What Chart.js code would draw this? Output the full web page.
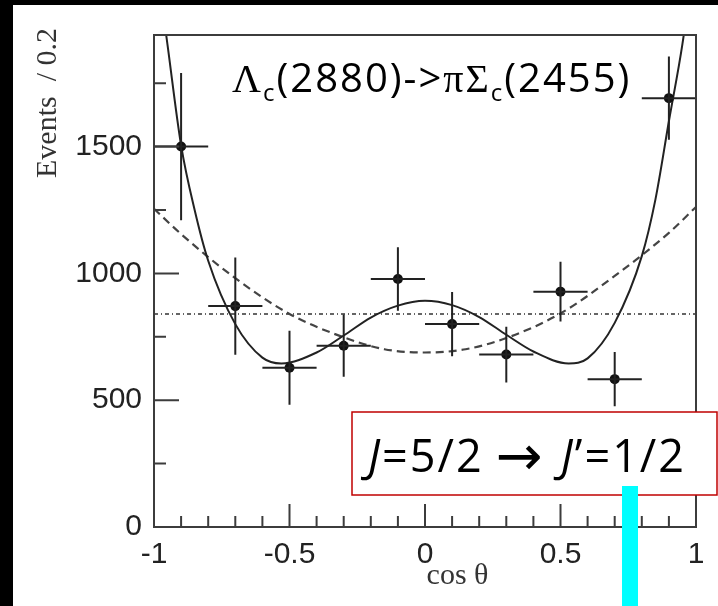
<!DOCTYPE html>
<html>
<head>
<meta charset="utf-8">
<script src="https://cdn.jsdelivr.net/npm/chart.js@4.4.0/dist/chart.umd.min.js"></script>
<style>
  html, body { margin: 0; padding: 0; background: #fff; overflow: hidden; }
  canvas { display: block; background: #fff; }
</style>
</head>
<body>
<canvas id="angChart" width="718" height="606" style="width:718px;height:606px"></canvas>
<script>
// measured bins (cos theta, width 0.2)
const binCenters = [-0.9, -0.7, -0.5, -0.3, -0.1, 0.1, 0.3, 0.5, 0.7, 0.9];
const eventCounts = [1500, 871, 628, 715, 978, 800, 680, 928, 583, 1691];
const countErrors = [290, 192, 146, 123, 125, 127, 110, 118, 107, 164];
const binHalfWidth = 0.1;

// fit curves
const solidX = [-1, -0.95, -0.9, -0.85, -0.8, -0.7, -0.6, -0.53, -0.4, -0.3, -0.2, -0.1, 0, 0.1, 0.2, 0.3, 0.4, 0.53, 0.6, 0.7, 0.8, 0.85, 0.9, 0.95, 1];
const solidY = [2300, 1900, 1505, 1250, 1050, 800, 668, 645, 688, 755, 826, 873, 892, 875, 828, 758, 692, 645, 665, 805, 1068, 1290, 1600, 1905, 2300];
const dashedX = [-1, -0.9, -0.7, -0.5, -0.3, -0.15, 0, 0.15, 0.3, 0.5, 0.7, 0.9, 1];
const dashedY = [1255, 1155, 981, 840, 748, 701, 688, 701, 745, 842, 990, 1160, 1262];
const flatX = [-1, 1];
const flatY = [840, 840];

// axes
const xMajorTicks = [-1, -0.5, 0, 0.5, 1];
const xTickLabels = ['-1', '-0.5', '0', '0.5', '1'];
const xMinorTicks = [-0.9, -0.8, -0.7, -0.6, -0.4, -0.3, -0.2, -0.1, 0.1, 0.2, 0.3, 0.4, 0.6, 0.7, 0.8, 0.9];
const yMajorTicks = [0, 500, 1000, 1500];
const yTickLabels = ['0', '500', '1000', '1500'];
const yMinorTicks = [250, 750, 1250, 1750];

const ink = '#222';
const axisInk = '#3c3c3c';

function pts(xs, ys) {
    return xs.map((x, i) => ({ x: x, y: ys[i] }));
}

// draws runs of text side by side; {gap: n} just moves on
function drawParts(ctx, parts, x, y) {
    parts.forEach(p => {
        if (p.gap) { x += p.gap; return; }
        ctx.font = p.font;
        ctx.fillText(p.text, x, y + (p.dy || 0));
        x += ctx.measureText(p.text).width;
    });
}

const decor = {
    id: 'decor',
    beforeDraw(chart) {
        const ctx = chart.ctx;
        ctx.save();
        ctx.fillStyle = '#fff';
        ctx.fillRect(0, 0, ctx.canvas.width, ctx.canvas.height);
        ctx.restore();
    },
    afterDatasetsDraw(chart) {
        const ctx = chart.ctx;
        const xs = chart.scales.x, ys = chart.scales.y;
        const a = chart.chartArea;
        ctx.save();
        ctx.beginPath();
        ctx.rect(a.left, a.top, a.right - a.left, a.bottom - a.top);
        ctx.clip();
        ctx.strokeStyle = ink;
        ctx.lineWidth = 2;
        binCenters.forEach((c, i) => {
            const px = xs.getPixelForValue(c);
            const py = ys.getPixelForValue(eventCounts[i]);
            ctx.beginPath();
            ctx.moveTo(px, ys.getPixelForValue(eventCounts[i] - countErrors[i]));
            ctx.lineTo(px, ys.getPixelForValue(eventCounts[i] + countErrors[i]));
            ctx.moveTo(xs.getPixelForValue(c - binHalfWidth), py);
            ctx.lineTo(xs.getPixelForValue(c + binHalfWidth), py);
            ctx.stroke();
        });
        ctx.restore();
    },
    afterDraw(chart) {
        const ctx = chart.ctx;
        const xs = chart.scales.x, ys = chart.scales.y;
        const a = chart.chartArea;
        ctx.save();
        // frame
        ctx.strokeStyle = axisInk;
        ctx.lineWidth = 2;
        ctx.strokeRect(a.left, a.top, a.right - a.left, a.bottom - a.top);
        // inner ticks
        ctx.beginPath();
        xMajorTicks.forEach(v => {
            const p = xs.getPixelForValue(v);
            ctx.moveTo(p, a.bottom); ctx.lineTo(p, a.bottom - 23);
        });
        xMinorTicks.forEach(v => {
            const p = xs.getPixelForValue(v);
            ctx.moveTo(p, a.bottom); ctx.lineTo(p, a.bottom - 11);
        });
        yMajorTicks.forEach(v => {
            const p = ys.getPixelForValue(v);
            ctx.moveTo(a.left, p); ctx.lineTo(a.left + 25, p);
        });
        yMinorTicks.forEach(v => {
            const p = ys.getPixelForValue(v);
            ctx.moveTo(a.left, p); ctx.lineTo(a.left + 12, p);
        });
        ctx.stroke();

        // axis titles
        ctx.fillStyle = '#333';
        ctx.font = '30px "Liberation Serif"';
        ctx.textBaseline = 'middle';
        ctx.textAlign = 'center';
        ctx.fillText('cos \u03b8', xs.getPixelForValue(0.12), 576);
        ctx.save();
        ctx.translate(48, 28);
        ctx.rotate(-Math.PI / 2);
        ctx.textAlign = 'right';
        ctx.fillText('Events  / 0.2', 0, 0);
        ctx.restore();

        // decay label
        ctx.fillStyle = '#000';
        ctx.textAlign = 'left';
        ctx.textBaseline = 'alphabetic';
        ctx.letterSpacing = '2px';
        const big = '40px "Open Sans"';
        const greek = '40px "Liberation Serif"';
        const sub = '24px "Open Sans"';
        drawParts(ctx, [
            { text: '\u039b', font: greek },
            { text: 'c', font: sub, dy: 9 },
            { text: '(2880)->', font: big },
            { text: '\u03c0\u03a3', font: greek },
            { text: 'c', font: sub, dy: 9 },
            { text: '(2455)', font: big }
        ], 232, 92);

        // spin box
        ctx.fillStyle = '#fff';
        ctx.fillRect(352, 412, 365, 83);
        ctx.strokeStyle = '#c00000';
        ctx.lineWidth = 1.5;
        ctx.strokeRect(352, 412, 365, 83);
        ctx.fillStyle = '#000';
        drawParts(ctx, [
            { text: 'J', font: 'italic 45px "Open Sans"' },
            { text: '=5/2', font: '45px "Open Sans"' },
            { gap: 12 },
            { text: '\u2192', font: '56px "DejaVu Sans"', dy: 3 },
            { gap: 16 },
            { text: 'J', font: 'italic 45px "Open Sans"' },
            { text: '\u2019=1/2', font: '45px "Open Sans"' }
        ], 368, 472);
        ctx.letterSpacing = '0px';

        // cyan marker
        ctx.fillStyle = '#00ffff';
        ctx.fillRect(622, 486, 16, 120);

        // black page edges
        ctx.fillStyle = '#000';
        ctx.fillRect(0, 0, 13, ctx.canvas.height);
        ctx.fillRect(0, 0, ctx.canvas.width, 5);
        ctx.restore();
    }
};

new Chart(document.getElementById('angChart').getContext('2d'), {
    data: {
        datasets: [
            {
                type: 'scatter',
                label: 'data',
                data: pts(binCenters, eventCounts),
                pointRadius: 5,
                pointBackgroundColor: '#111',
                pointBorderWidth: 0,
                order: 0
            },
            {
                type: 'line',
                label: 'J=5/2',
                data: pts(solidX, solidY),
                borderColor: ink,
                borderWidth: 2,
                pointRadius: 0,
                cubicInterpolationMode: 'monotone',
                fill: false,
                order: 1
            },
            {
                type: 'line',
                label: 'J=3/2',
                data: pts(dashedX, dashedY),
                borderColor: '#444',
                borderWidth: 2.2,
                borderDash: [8, 5],
                pointRadius: 0,
                cubicInterpolationMode: 'monotone',
                fill: false,
                order: 2
            },
            {
                type: 'line',
                label: 'J=1/2',
                data: pts(flatX, flatY),
                borderColor: '#333',
                borderWidth: 1.5,
                borderDash: [4, 3, 1, 3],
                pointRadius: 0,
                fill: false,
                order: 3
            }
        ]
    },
    options: {
        responsive: false,
        animation: false,
        devicePixelRatio: 1,
        layout: { padding: { top: 35, right: 22, left: 0, bottom: 0 } },
        plugins: { legend: { display: false }, tooltip: { enabled: false } },
        scales: {
            x: {
                type: 'linear',
                min: -1,
                max: 1,
                grid: { display: false, drawTicks: false },
                border: { display: false },
                afterBuildTicks: s => { s.ticks = xMajorTicks.map(v => ({ value: v })); },
                afterFit: s => { s.height = 79; },
                ticks: {
                    autoSkip: false,
                    maxRotation: 0,
                    padding: 10,
                    color: ink,
                    font: { family: 'Liberation Sans', size: 30 },
                    callback: v => xTickLabels[xMajorTicks.indexOf(v)]
                }
            },
            y: {
                type: 'linear',
                min: 0,
                max: 1940,
                grid: { display: false, drawTicks: false },
                border: { display: false },
                afterBuildTicks: s => { s.ticks = yMajorTicks.map(v => ({ value: v })); },
                afterFit: s => { s.width = 154; },
                ticks: {
                    autoSkip: false,
                    padding: 12,
                    color: ink,
                    font: { family: 'Liberation Sans', size: 30 },
                    callback: v => yTickLabels[yMajorTicks.indexOf(v)]
                }
            }
        }
    },
    plugins: [decor]
});
</script>
</body>
</html>
